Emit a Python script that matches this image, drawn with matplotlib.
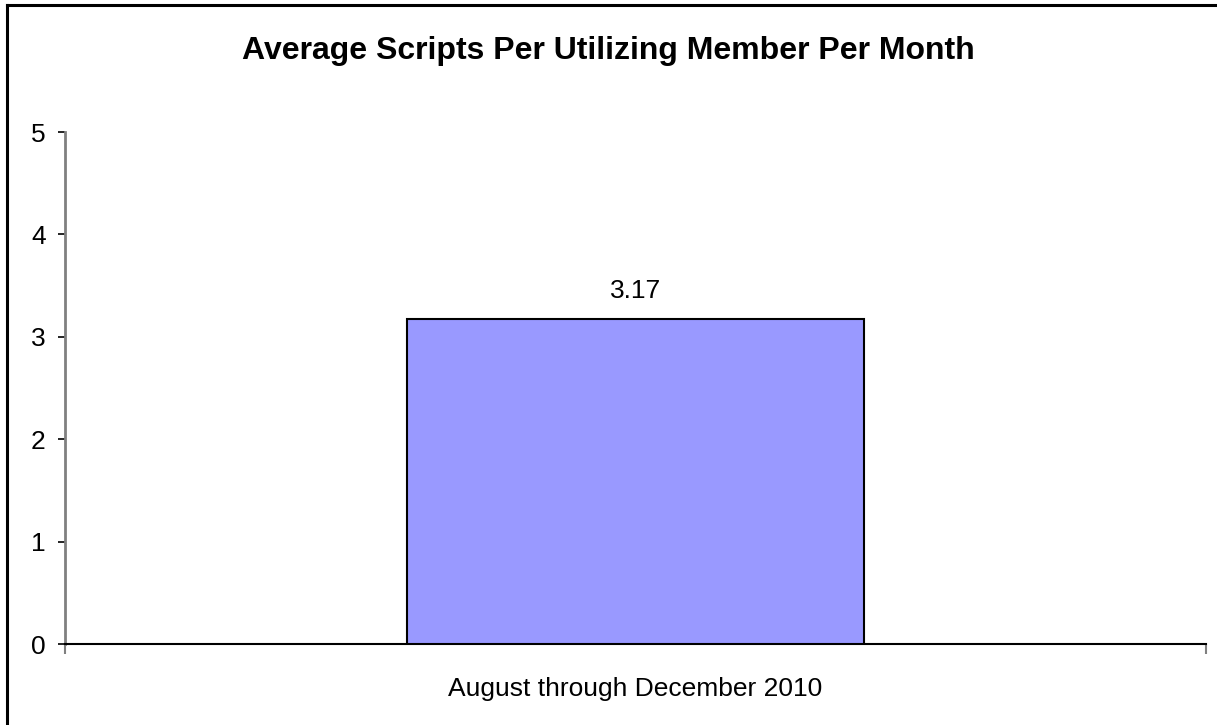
import matplotlib.pyplot as plt
from matplotlib.lines import Line2D

# Data
categories = ['August through December 2010']
values = [3.17]
title = 'Average Scripts Per Utilizing Member Per Month'

plt.rcParams['font.family'] = ['Liberation Sans', 'DejaVu Sans']

fig = plt.figure(figsize=(12.17, 7.25), dpi=100)
ax = fig.add_axes([65 / 1217, 1 - 644 / 725, (1206 - 65) / 1217, (644 - 132) / 725])

x = list(range(len(categories)))
bars = ax.bar(x, values, width=0.4, color='#9999FF', edgecolor='black', linewidth=1.5, zorder=3)
for b, v in zip(bars, values):
    ax.annotate(f'{v:.2f}', (b.get_x() + b.get_width() / 2, v), xytext=(0, 12),
                textcoords='offset points', ha='center', va='bottom', fontsize=19)

ax.set_xlim(-0.5, len(categories) - 0.5)
ax.set_ylim(0, 5)
ax.set_yticks(range(6))
ax.set_xticks(x)
ax.set_xticklabels(categories)
ax.tick_params(axis='x', length=0, pad=24, labelsize=19)
ax.tick_params(axis='y', length=5, width=1.2, pad=9, labelsize=19, color='black')

# category boundary ticks
ax.set_xticks([-0.5, len(categories) - 0.5], minor=True)
ax.tick_params(axis='x', which='minor', length=7, width=1.5, color='#808080', direction='out')

for s in ['top', 'right']:
    ax.spines[s].set_visible(False)
ax.spines['left'].set_color('#808080')
ax.spines['left'].set_linewidth(2)
ax.spines['bottom'].set_color('black')
ax.spines['bottom'].set_linewidth(1.5)

fig.text(0.5, 1 - 51 / 725, title, ha='center', va='center', fontsize=23, fontweight='bold')

# chart frame (only top and left edges visible)
fig.add_artist(Line2D([7 / 1217, 7 / 1217], [0, 1 - 5 / 725], color='black', linewidth=2.2,
                      transform=fig.transFigure))
fig.add_artist(Line2D([7 / 1217, 1], [1 - 5 / 725, 1 - 5 / 725], color='black', linewidth=2.2,
                      transform=fig.transFigure))

fig.savefig('out.png', dpi=100)
